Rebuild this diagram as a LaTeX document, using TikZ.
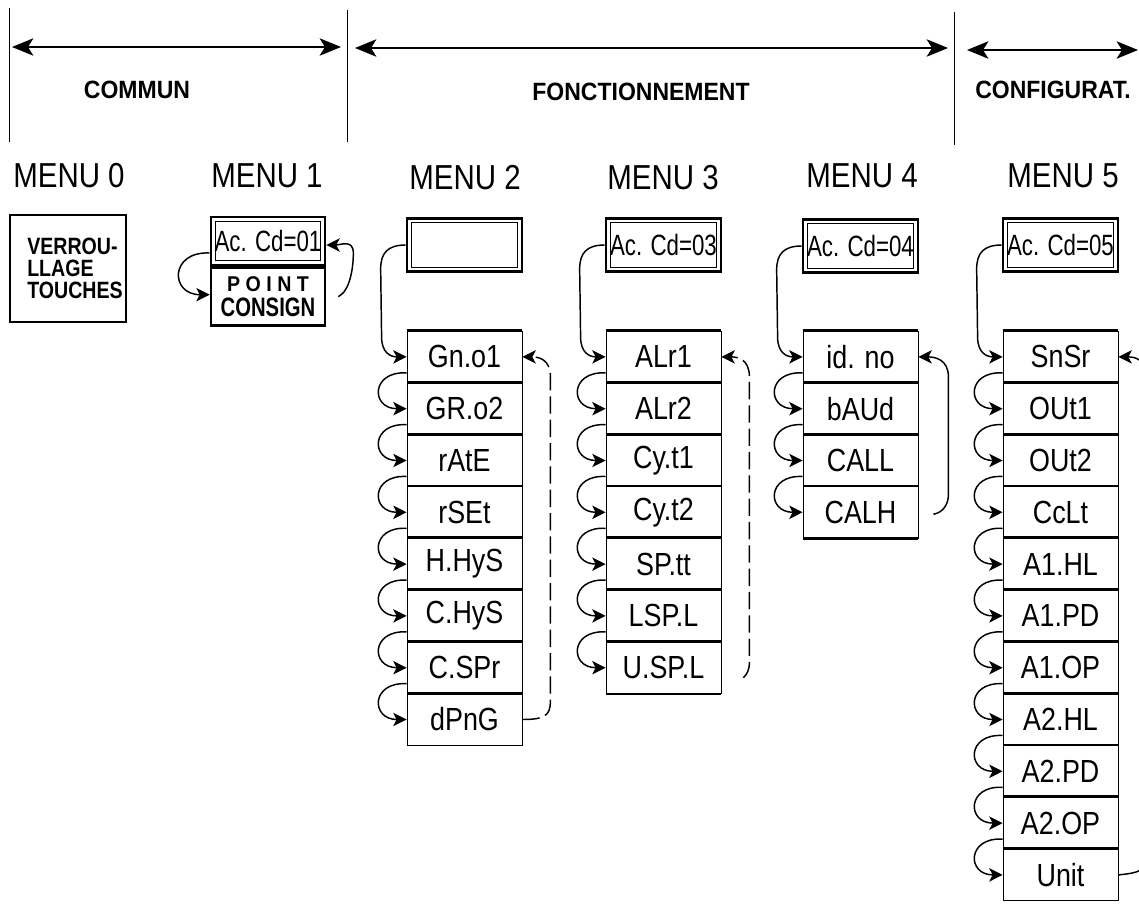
\documentclass[tikz,border=0pt]{standalone}
\usepackage{fontspec}
\setmainfont{Liberation Sans}
\newfontfamily\headfont[FakeStretch=0.92]{Liberation Sans}
\newfontfamily\menufont[FakeStretch=0.85]{Liberation Sans}
\newfontfamily\itemfont[FakeStretch=0.84]{Liberation Sans}
\newfontfamily\condfont[FakeStretch=0.76]{Liberation Sans}
\newfontfamily\lockfont[FakeStretch=0.83]{Liberation Sans}
\usetikzlibrary{arrows.meta,calc}
\tikzset{
  hdr/.style={font=\headfont\bfseries\fontsize{18.75}{20}\selectfont},
  menulbl/.style={font=\menufont\fontsize{26}{28}\selectfont},
  acbox/.style={draw, line width=2pt, minimum width=86.25pt, minimum height=39.75pt, inner sep=0pt,
    font=\condfont\fontsize{22}{24}\selectfont,
    path picture={\draw[line width=0.6pt] ([shift={(3.2pt,-3.2pt)}]path picture bounding box.north west)
      rectangle ([shift={(-3.2pt,3.2pt)}]path picture bounding box.south east);}},
  item/.style={draw, line width=0.6pt, minimum width=86.25pt, minimum height=38.85pt, inner sep=0pt,
    font=\itemfont\fontsize{24}{26}\selectfont},
  sep/.style={line width=2pt},
  divider/.style={line width=0.6pt},
  span/.style={line width=1.5pt, {Stealth[length=16pt,width=13pt,inset=4pt]}-{Stealth[length=16pt,width=13pt,inset=4pt]}},
  link/.style={line width=1.1pt, -{Stealth[length=10pt,width=10pt,inset=2.5pt]}},
  back/.style={link, dash pattern=on 13pt off 4.5pt},
}
\begin{document}
\begin{tikzpicture}[x=0.75pt,y=-0.75pt]
\useasboundingbox (0,0) rectangle (1139,907);

% sections at the top
\draw[divider] (9,8) -- (9,142);
\draw[divider] (347,10) -- (347,142);
\draw[divider] (954,12) -- (954,145);
\coordinate (cm-l) at (12,47);
\coordinate (cm-r) at (341,47);
\coordinate (fn-l) at (355,48);
\coordinate (fn-r) at (948,48);
\coordinate (cf-l) at (967,50);
\coordinate (cf-r) at (1138,50);
\draw[span] (cm-l) -- (cm-r);
\draw[span] (fn-l) -- (fn-r);
\draw[span] (cf-l) -- (cf-r);
\node[hdr] (commun) at (137,90) {COMMUN};
\node[hdr] (fonct) at (641,92) {FONCTIONNEMENT};
\node[hdr] (config) at (1053,90) {CONFIGURAT.};

% menu titles
\node[menulbl] (title0) at (69,176) {MENU 0};
\node[menulbl] (title1) at (267,176) {MENU 1};
\node[menulbl] (title2) at (465,178) {MENU 2};
\node[menulbl] (title3) at (663,178) {MENU 3};
\node[menulbl] (title4) at (862,176) {MENU 4};
\node[menulbl] (title5) at (1063,176) {MENU 5};

% menu 0
\node[draw, line width=1.2pt, minimum width=87pt, minimum height=80.25pt] (m0) at (68,268.5) {};
\node[anchor=west, align=left, inner sep=0pt,
  font=\lockfont\bfseries\fontsize{17.7}{16.5}\selectfont]
  (m0t) at (27,268) {VERROU-\\LLAGE\\TOUCHES};

% menu 1
\node[acbox, minimum width=85.5pt, minimum height=36pt] (ac1) at (268,241) {Ac. Cd=01};
\node[draw, line width=2pt, minimum width=85.5pt, minimum height=43.5pt, inner sep=0pt,
  anchor=north, align=center, font=\bfseries] (pc1) at (ac1.south)
  {\headfont\fontsize{16}{18}\selectfont P O I N T\\[3pt]\condfont\fontsize{20}{18}\selectfont CONSIGN};
\draw[link] ($(ac1.west)+(0,12)$) .. controls +(-40,-2) and +(-40,0) .. ($(pc1.west)+(0,-2)$);
\draw[link] ($(pc1.east)+(12,0)$) .. controls +(12,-6) and +(0,14) .. ($(ac1.east)+(27,12)$)
  .. controls +(0,-14) and +(14,0) .. ($(ac1.east)+(0,4)$);

% menu 2
\node[acbox] (t2) at (464.5,245) {};
\foreach \t [count=\i] in {Gn.o1,GR.o2,rAtE,rSEt,H.HyS,C.HyS,C.SPr,dPnG}
  \node[item] (m2-\i) at (464.5,{331+51.8*(\i-0.5)}) {\t};
\foreach \i in {1,...,8}
  \draw[sep] (m2-\i.north west) -- (m2-\i.north east);
\foreach \i [count=\j from 2] in {1,...,7}
  \draw[link] ($(m2-\i.west)+(0,16)$) .. controls +(-36,-2) and +(-36,0) .. (m2-\j.west);
\draw[link] (t2.west) .. controls +(-18,0) and +(0,-16) .. ($(t2.west)+(-25,24)$)
  -- ($(m2-1.west)+(-25,-20)$) .. controls +(0,16) and +(-16,0) .. (m2-1.west);
\draw[back] (m2-8.east) .. controls +(22,0) and +(0,14) .. ($(m2-8.east)+(28,-18)$)
  -- ($(m2-1.east)+(28,20)$) .. controls +(0,-18) and +(16,0) .. (m2-1.east);

% menu 3
\node[acbox] (t3) at (663.5,245) {Ac. Cd=03};
\foreach \t [count=\i] in {ALr1,ALr2,Cy.t1,Cy.t2,SP.tt,LSP.L,U.SP.L}
  \node[item] (m3-\i) at (663.5,{331+51.8*(\i-0.5)}) {\t};
\foreach \i in {1,...,7}
  \draw[sep] (m3-\i.north west) -- (m3-\i.north east);
\draw[sep] (m3-7.south west) -- (m3-7.south east);
\foreach \i [count=\j from 2] in {1,...,6}
  \draw[link] ($(m3-\i.west)+(0,16)$) .. controls +(-36,-2) and +(-36,0) .. (m3-\j.west);
\draw[link] (t3.west) .. controls +(-18,0) and +(0,-16) .. ($(t3.west)+(-25,24)$)
  -- ($(m3-1.west)+(-25,-20)$) .. controls +(0,16) and +(-16,0) .. (m3-1.west);
\draw[back] ($(m3-7.east)+(22,10)$) .. controls +(4,-4) and +(0,8) .. ($(m3-7.east)+(28,-6)$)
  -- ($(m3-1.east)+(28,20)$) .. controls +(0,-18) and +(16,0) .. (m3-1.east);

% menu 4
\node[acbox] (t4) at (860.5,246) {Ac. Cd=04};
\foreach \t [count=\i] in {id. no,bAUd,CALL,CALH}
  \node[item] (m4-\i) at (860.5,{331+51.8*(\i-0.5)}) {\t};
\foreach \i in {1,...,4}
  \draw[sep] (m4-\i.north west) -- (m4-\i.north east);
\draw[sep] (m4-4.south west) -- (m4-4.south east);
\foreach \i [count=\j from 2] in {1,...,3}
  \draw[link] ($(m4-\i.west)+(0,16)$) .. controls +(-36,-2) and +(-36,0) .. (m4-\j.west);
\draw[link] (t4.west) .. controls +(-18,0) and +(0,-16) .. ($(t4.west)+(-25,24)$)
  -- ($(m4-1.west)+(-25,-20)$) .. controls +(0,16) and +(-16,0) .. (m4-1.west);
\draw[link] ($(m4-4.east)+(15,2)$) .. controls +(10,-2) and +(0,10) .. ($(m4-4.east)+(30,-18)$)
  -- ($(m4-1.east)+(30,20)$) .. controls +(0,-18) and +(16,0) .. (m4-1.east);

% menu 5
\node[acbox] (t5) at (1060.5,245) {Ac. Cd=05};
\foreach \t [count=\i] in {SnSr,OUt1,OUt2,CcLt,A1.HL,A1.PD,A1.OP,A2.HL,A2.PD,A2.OP,Unit}
  \node[item] (m5-\i) at (1060.5,{331+51.8*(\i-0.5)}) {\t};
\foreach \i in {1,...,11}
  \draw[sep] (m5-\i.north west) -- (m5-\i.north east);
\foreach \i [count=\j from 2] in {1,...,10}
  \draw[link] ($(m5-\i.west)+(0,16)$) .. controls +(-36,-2) and +(-36,0) .. (m5-\j.west);
\draw[link] (t5.west) .. controls +(-18,0) and +(0,-16) .. ($(t5.west)+(-25,24)$)
  -- ($(m5-1.west)+(-25,-20)$) .. controls +(0,16) and +(-16,0) .. (m5-1.west);
\draw[link] (m5-11.east) .. controls +(20,-2) and +(0,14) .. ($(m5-11.east)+(28,-18)$)
  -- ($(m5-1.east)+(28,20)$) .. controls +(0,-18) and +(16,0) .. (m5-1.east);
\end{tikzpicture}
\end{document}
